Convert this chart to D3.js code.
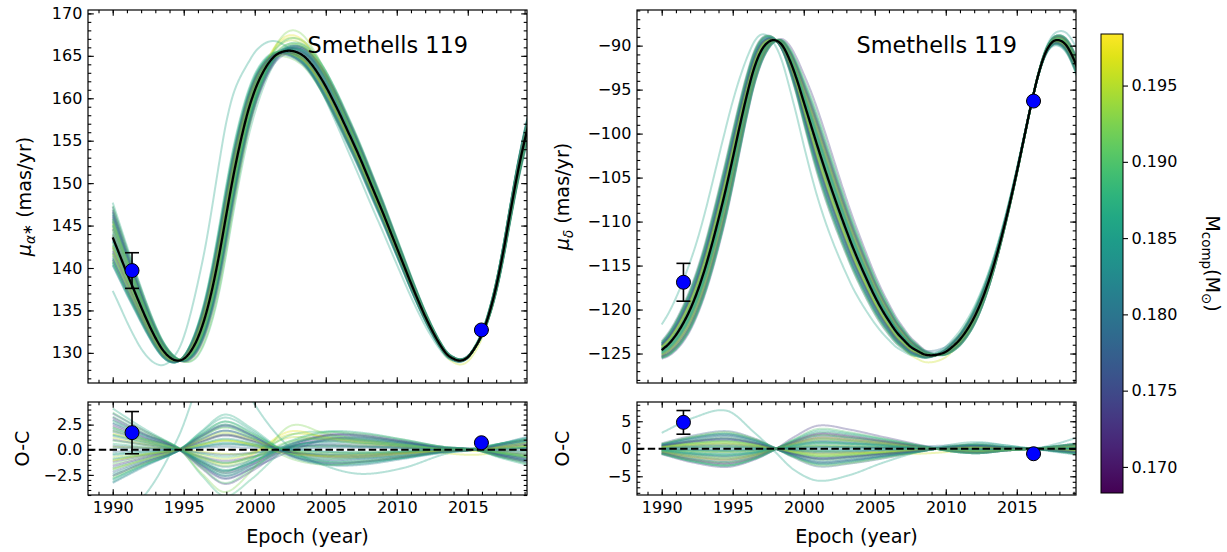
<!DOCTYPE html>
<html>
<head>
<meta charset="utf-8">
<script src="https://cdn.jsdelivr.net/npm/d3@7"></script>
<style>
  body { margin: 0; background: #fff; }
  svg { display: block; }
  text { font-family: "DejaVu Sans", sans-serif; }
</style>
</head>
<body>
<svg id="fig" width="1227" height="552"></svg>
<script>
// ---------------------------------------------------------------
// Data: proper-motion anomaly of Smethells 119 (best fit, posterior
// draws expressed as residuals from the best fit, and observations)
// ---------------------------------------------------------------

// best-fit epochs (years) and the two proper-motion components
const bestEpochs = d3.range(1990, 2019.51, 0.5);
const bestPmRA = [
  143.6, 141.5, 139.4, 137.4, 135.4, 133.5, 131.8, 130.4, 129.5, 129.1,
  129.3, 130.2, 131.8, 134.2, 137.5, 141.6, 146.3, 150.9, 154.9, 158.3,
  160.9, 162.8, 164.2, 165.1, 165.5, 165.6, 165.4, 164.9, 164.0, 162.8,
  161.4, 159.8, 158.1, 156.3, 154.5, 152.6, 150.6, 148.6, 146.6, 144.5,
  142.4, 140.3, 138.2, 136.2, 134.3, 132.6, 131.1, 129.9, 129.3, 129.1,
  129.5, 130.6, 132.2, 134.6, 137.8, 141.9, 146.6, 151.1, 155.0, 158.3
];
const bestPmDec = [
  -124.6, -123.9, -122.9, -121.6, -120.0, -118.0, -115.6, -112.8, -109.7, -106.4,
  -102.8, -99.1, -95.6, -92.6, -90.6, -89.6, -89.4, -90.0, -91.6, -93.8,
  -96.4, -99.0, -101.6, -104.1, -106.5, -108.8, -111.0, -113.1, -115.0, -116.8,
  -118.5, -120.0, -121.3, -122.5, -123.4, -124.2, -124.7, -125.1, -125.2, -125.1,
  -124.8, -124.2, -123.4, -122.3, -120.9, -119.1, -116.9, -114.3, -111.3, -108.0,
  -104.4, -100.6, -96.8, -93.4, -90.9, -89.6, -89.4, -90.0, -91.5, -93.6
];

// companion mass of each posterior draw (Msun)
const drawMass = [
  0.1745, 0.1760, 0.1850, 0.1900, 0.1950, 0.1720, 0.1820, 0.1880, 0.1930, 0.1790,
  0.1870, 0.1960, 0.1770, 0.1840, 0.1910, 0.1735, 0.1860, 0.1890, 0.1805, 0.1940,
  0.1780, 0.1830, 0.1970, 0.1750, 0.1865, 0.1895, 0.1880, 0.1925, 0.1858, 0.1815,
  0.1842, 0.1728, 0.1905, 0.1795, 0.1855, 0.1915, 0.1738, 0.1812, 0.1875, 0.1945,
  0.1765, 0.1835, 0.1898, 0.1955, 0.1785, 0.1868, 0.1922, 0.1752
];

// residual of each draw from the best fit, RA component
const residEpochsRA = [1990, 1992.2, 1994.6, 1996.3, 1997.9, 1999.7, 2002.4, 2005, 2007.5, 2010.5, 2013.2, 2015.5, 2017.3, 2019.2];
const residRA = [
  [3.6, 1.9, 0.1, -1.7, -2.9, -1.9, 0.4, 1.5, 1.5, 0.9, 0.3, 0.0, -0.7, -1.3],
  [3.0, 1.5, 0.2, -1.5, -2.6, -1.6, 0.5, 1.4, 1.3, 0.8, 0.2, 0.1, -0.6, -1.1],
  [-3.2, -1.6, -0.1, 1.6, 2.8, 1.8, -0.4, -1.4, -1.4, -0.8, -0.3, 0.0, 0.6, 1.2],
  [-2.6, -1.3, 0.0, 1.4, 2.5, 1.6, -0.3, -1.2, -1.1, -0.7, -0.2, 0.1, 0.5, 1.0],
  [1.2, 0.6, 0.1, -0.5, -0.9, -0.4, 1.2, 1.0, 0.6, 0.3, 0.1, -0.1, -0.3, -0.5],
  [2.4, 1.2, 0.1, -1.3, -2.3, -1.5, 0.2, 1.1, 1.0, 0.6, 0.2, 0.0, -0.5, -0.9],
  [-1.8, -0.9, 0.0, 1.1, 1.9, 1.2, -0.2, -0.8, -0.8, -0.5, -0.1, 0.0, 0.4, 0.7],
  [0.6, 0.3, 0.0, -0.4, -0.7, -0.4, 0.1, 0.3, 0.3, 0.2, 0.0, 0.0, -0.1, -0.2],
  [-1.0, -0.5, 0.0, 0.6, 1.0, 0.6, -0.1, -0.5, -0.4, -0.3, -0.1, 0.0, 0.2, 0.4],
  [1.8, 0.9, 0.0, -1.0, -1.7, -1.1, 0.3, 0.8, 0.8, 0.5, 0.1, 0.0, -0.4, -0.7],
  [-0.4, -0.2, 0.0, 0.3, 0.6, 0.4, 0.0, -0.2, -0.2, -0.1, 0.0, 0.0, 0.1, 0.2],
  [0.3, 0.2, 0.1, -0.2, -0.4, -0.3, 1.5, 1.3, 0.8, 0.3, -0.3, -0.5, -0.2, 0.3],
  [-2.2, -1.1, -0.1, 1.1, 1.9, 1.2, -0.3, -1.0, -0.9, -0.6, -0.2, 0.0, 0.4, 0.8],
  [2.7, 1.4, 0.1, -1.2, -2.1, -1.3, 0.5, 1.2, 1.1, 0.7, 0.2, 0.0, -0.5, -1.0],
  [-1.4, -0.7, 0.0, 0.8, 1.5, 0.9, -0.2, -0.6, -0.6, -0.3, -0.1, 0.0, 0.3, 0.5],
  [1.0, 0.5, 0.0, -0.7, -1.1, -0.7, 0.2, 0.5, 0.4, 0.3, 0.1, 0.0, -0.2, -0.4],
  [-3.0, -1.5, -0.1, 1.8, 3.2, 2.0, -0.5, -1.4, -1.3, -0.8, -0.2, 0.1, 0.6, 1.1],
  [3.3, 1.7, 0.2, -1.3, -2.2, -1.0, 1.4, 1.8, 1.4, 0.8, 0.3, 0.0, -0.7, -1.2],
  [0.2, 0.1, 0.0, 0.3, 0.5, 0.4, -0.2, -0.6, -0.6, -0.3, 0.0, 0.0, 0.1, 0.2],
  [-0.7, -0.4, 0.0, 0.5, 0.9, 0.6, -0.1, -0.3, -0.3, -0.2, 0.0, 0.0, 0.1, 0.3],
  [2.0, 1.0, 0.1, -1.2, -2.1, -1.3, 0.3, 0.9, 0.9, 0.5, 0.2, 0.0, -0.4, -0.8],
  [-2.4, -1.2, -0.1, 1.3, 2.3, 1.4, -0.3, -1.1, -1.0, -0.6, -0.2, 0.0, 0.5, 0.9],
  [1.6, 0.8, 0.1, -0.8, -1.4, -0.6, 1.8, 1.2, 0.7, 0.4, 0.1, -0.1, -0.3, -0.6],
  [-1.2, -0.6, 0.0, 0.8, 1.4, 0.9, -0.2, -0.5, -0.5, -0.3, -0.1, 0.0, 0.2, 0.5],
  [4.1, 2.1, 0.2, -1.4, -2.4, -1.4, 0.8, 1.8, 1.7, 1.0, 0.3, 0.0, -0.8, -1.5],
  [-2.0, -1.0, 0.0, 1.6, 2.8, 1.7, -0.3, -0.9, -0.8, -0.5, -0.1, 0.0, 0.4, 0.8],
  [2.9, 1.5, 0.2, -2.6, -4.6, -3.0, 0.3, 1.3, 1.2, 0.7, 0.2, 0.0, -0.6, -1.1],
  [2.2, 1.1, 0.1, -2.4, -4.2, -2.2, 2.3, 1.6, 1.0, 0.5, 0.1, 0.0, -0.4, -0.8],
  [-6.3, -4.6, 1.2, 7.5, 11.0, 5.2, 0.3, -1.6, -2.4, -1.8, -0.5, 0.2, 0.6, 0.9],
  [1.4, 0.7, 0.0, -0.8, -1.3, -0.8, 0.2, 0.6, 0.6, 0.4, 0.1, 0.0, -0.3, -0.5],
  [-0.9, -0.5, 0.0, 0.6, 1.1, 0.7, -0.1, -0.4, -0.4, -0.2, 0.0, 0.0, 0.2, 0.3],
  [-1.6, -0.8, 0.0, 0.9, 1.5, 1.0, -0.2, -0.7, -0.7, -0.4, -0.1, 0.0, 0.3, 0.6],
  [0.9, 0.5, 0.0, -0.7, -1.3, -0.8, 0.2, 0.4, 0.4, 0.2, 0.1, 0.0, -0.2, -0.3],
  [-0.2, -0.1, 0.0, 0.2, 0.3, 0.2, 0.3, 0.4, 0.3, 0.2, 0.0, 0.0, 0.0, 0.1],
  [2.2, 1.1, 0.1, -1.5, -2.6, -1.7, 0.1, 1.0, 1.0, 0.6, 0.2, 0.0, -0.4, -0.8],
  [-2.8, -1.4, -0.1, 1.3, 2.2, 1.3, -0.8, -1.5, -1.2, -0.7, -0.2, 0.1, 0.6, 1.0],
  [3.2, 1.6, 0.1, -1.9, -3.4, -2.2, 0.2, 1.4, 1.4, 0.8, 0.2, 0.0, -0.6, -1.2],
  [-3.3, -1.7, -0.1, 1.5, 2.5, 1.5, -0.6, -1.5, -1.5, -0.9, -0.3, 0.0, 0.6, 1.3],
  [1.5, 0.8, 0.0, -1.1, -2.0, -1.3, 0.3, 0.8, 0.7, 0.4, 0.1, 0.0, -0.3, -0.6],
  [-1.9, -1.0, 0.0, 1.0, 1.7, 1.1, -0.1, -0.7, -0.7, -0.4, -0.1, 0.0, 0.3, 0.7],
  [2.6, 1.3, 0.1, -1.6, -2.8, -1.9, -0.2, 1.0, 1.2, 0.7, 0.2, 0.0, -0.5, -1.0],
  [-0.5, -0.3, 0.0, 0.4, 0.7, 0.5, 0.1, -0.2, -0.3, -0.2, 0.0, 0.0, 0.1, 0.2],
  [3.7, 1.9, 0.2, -1.8, -3.3, -2.0, 0.6, 1.7, 1.6, 1.0, 0.3, 0.0, -0.7, -1.4],
  [-1.1, -0.5, 0.0, 0.5, 0.9, 0.5, -0.4, -0.6, -0.5, -0.3, -0.1, 0.0, 0.2, 0.4],
  [0.4, 0.2, 0.0, -0.3, -0.5, -0.3, 0.0, 0.2, 0.2, 0.1, 0.0, 0.0, -0.1, -0.1],
  [-2.9, -1.5, -0.1, 1.9, 3.5, 2.2, -0.4, -1.2, -1.2, -0.8, -0.2, 0.1, 0.6, 1.1],
  [1.9, 1.0, 0.1, -0.9, -1.6, -0.9, 0.8, 1.1, 0.9, 0.5, 0.1, 0.0, -0.3, -0.7],
  [-2.6, -1.3, -0.1, 1.4, 2.4, 1.5, -0.5, -1.3, -1.2, -0.7, -0.2, 0.0, 0.5, 1.0]
];

// residual of each draw from the best fit, Dec component
const residEpochsDec = [1990, 1992.2, 1994.6, 1996.5, 1998.0, 1999.3, 2001.0, 2003.2, 2005.5, 2008, 2010.5, 2012.3, 2014.3, 2016.2, 2017.8, 2019.2];
const residDec = [
  [-0.7, -1.7, -2.2, -1.3, 0.0, 1.1, 2.2, 1.9, 1.2, 0.4, -0.3, -0.6, -0.2, 0.0, 0.3, 0.7],
  [-0.5, -1.1, -1.5, -0.9, 0.0, 0.8, 1.5, 1.3, 0.8, 0.3, -0.2, -0.4, -0.2, 0.0, 0.2, 0.5],
  [0.8, 2.1, 2.8, 1.7, 0.1, -1.4, -2.8, -2.4, -1.5, -0.6, 0.4, 0.7, 0.3, 0.0, -0.4, -0.8],
  [0.6, 1.5, 2.0, 1.2, 0.0, -1.0, -2.0, -1.7, -1.1, -0.4, 0.3, 0.5, 0.2, 0.0, -0.3, -0.6],
  [-0.2, -0.5, -0.6, -0.4, 0.0, 0.3, 0.6, 0.5, 0.3, 0.1, -0.1, -0.2, -0.1, 0.0, 0.1, 0.2],
  [-0.8, -2.1, -2.8, -1.7, -0.1, 1.4, 2.8, 2.4, 1.5, 0.6, -0.4, -0.7, -0.3, 0.0, 0.4, 0.8],
  [0.5, 1.1, 1.5, 0.9, 0.0, -0.8, -1.5, -1.3, -0.8, -0.3, 0.2, 0.4, 0.2, 0.0, -0.2, -0.5],
  [-0.1, -0.3, -0.4, -0.2, 0.0, 0.2, 0.4, 0.3, 0.2, 0.1, -0.1, -0.1, 0.0, 0.0, 0.1, 0.1],
  [0.3, 0.8, 1.0, 0.6, 0.0, -0.5, -1.0, -0.9, -0.6, -0.2, 0.2, 0.3, 0.1, 0.0, -0.2, -0.3],
  [-0.4, -0.9, -1.2, -0.7, 0.0, 0.6, 1.2, 1.0, 0.7, 0.2, -0.2, -0.3, -0.1, 0.0, 0.2, 0.4],
  [0.1, 0.2, 0.3, 0.2, 0.0, -0.2, -0.3, -0.3, -0.2, -0.1, 0.0, 0.1, 0.0, 0.0, 0.0, -0.1],
  [0.2, 0.4, 0.5, 0.3, 0.0, -0.3, -0.5, -0.6, -0.8, -0.9, -0.5, 0.0, 0.1, 0.0, -0.1, -0.2],
  [1.0, 2.4, 3.2, 1.9, 0.1, -1.6, -3.2, -2.7, -1.8, -0.6, 0.5, 0.8, 0.3, 0.0, -0.5, -1.0],
  [-0.7, -1.8, -2.4, -1.4, 0.0, 1.2, 2.4, 2.0, 1.3, 0.5, -0.4, -0.6, -0.2, 0.0, 0.4, 0.7],
  [0.4, 0.9, 1.2, 0.7, 0.0, -0.6, -1.2, -1.0, -0.7, -0.2, 0.2, 0.3, 0.1, 0.0, -0.2, -0.4],
  [-1.0, -2.5, -3.3, -2.0, -0.1, 2.1, 4.2, 3.5, 2.2, 0.8, -0.5, -0.8, -0.3, 0.0, 0.5, 1.0],
  [0.5, 1.4, 1.8, 1.1, 0.0, -0.9, -1.8, -1.5, -1.0, -0.4, 0.3, 0.5, 0.2, 0.0, -0.3, -0.5],
  [-0.3, -0.8, -1.0, -0.6, 0.0, 0.5, 1.0, 0.9, 0.6, 0.2, -0.2, -0.3, -0.1, 0.0, 0.2, 0.3],
  [0.7, 1.7, 2.3, 1.4, 0.0, -1.2, -2.3, -2.0, -1.3, -0.5, 0.3, 0.6, 0.2, 0.0, -0.3, -0.7],
  [-0.5, -1.4, -1.8, -1.1, 0.0, 0.9, 1.8, 1.5, 1.0, 0.4, -0.3, -0.5, -0.2, 0.0, 0.3, 0.5],
  [0.2, 0.6, 0.8, 0.5, 0.0, -0.4, -0.8, -0.7, -0.4, -0.2, 0.1, 0.2, 0.1, 0.0, -0.1, -0.2],
  [-0.2, -0.6, -0.8, -0.5, 0.0, 0.4, 0.8, 0.7, 0.4, 0.2, -0.1, -0.2, -0.1, 0.0, 0.1, 0.2],
  [-0.6, -1.5, -2.0, -1.2, 0.0, 1.0, 2.0, 1.7, 1.1, 0.4, -0.3, -0.5, -0.2, 0.0, 0.3, 0.6],
  [0.8, 2.0, 2.6, 1.6, 0.1, -1.3, -2.6, -2.2, -1.4, -0.5, 0.4, 0.7, 0.3, 0.0, -0.4, -0.8],
  [-0.1, -0.2, -0.2, -0.1, 0.0, 0.1, 0.2, 0.2, 0.1, 0.0, 0.0, 0.0, 0.0, 0.0, 0.0, 0.1],
  [0.4, 1.1, 1.4, 0.8, 0.0, -0.7, -1.4, -1.2, -0.8, -0.3, 0.2, 0.4, 0.1, 0.0, -0.2, -0.4],
  [-0.9, -2.3, -3.0, -1.8, -0.1, 1.5, 3.0, 2.6, 1.7, 0.6, -0.5, -0.8, -0.3, 0.0, 0.5, 0.9],
  [-0.8, -1.9, -2.5, -1.5, 0.0, 1.3, 2.5, 2.1, 1.4, 0.5, -0.4, -0.6, -0.3, 0.0, 0.4, 0.8],
  [2.9, 5.6, 6.9, 3.0, -0.6, -3.8, -5.8, -4.8, -2.6, -0.6, 0.8, 1.2, 0.6, 0.0, -0.6, -1.0],
  [0.2, 0.5, 0.6, 0.4, 0.0, -0.3, -0.6, -0.5, -0.3, -0.1, 0.1, 0.2, 0.1, 0.0, -0.1, -0.2],
  [-0.4, -1.0, -1.3, -0.8, 0.0, 0.7, 1.3, 1.1, 0.7, 0.3, 0.4, 1.0, 0.6, 0.1, 0.9, 2.0],
  [0.5, 1.3, 1.7, 1.0, 0.0, -0.9, -1.7, -1.4, -0.9, -0.3, 0.3, 0.4, 0.2, 0.0, -0.3, -0.5],
  [-0.2, -0.4, -0.5, -0.3, 0.0, 0.3, 0.5, 0.4, 0.3, 0.1, -0.1, -0.1, 0.0, 0.0, 0.1, 0.2],
  [0.0, 0.1, 0.1, 0.1, 0.0, 0.0, -0.1, 0.0, 0.2, 0.4, 0.6, 0.5, 0.2, 0.0, -0.1, -0.2],
  [-0.9, -2.3, -3.1, -1.9, -0.1, 1.6, 3.3, 2.8, 1.8, 0.6, -0.5, -0.8, -0.3, 0.0, 0.5, 0.9],
  [0.9, 2.2, 3.0, 1.8, 0.1, -1.5, -3.0, -2.6, -1.7, -0.6, 0.5, 0.8, 0.3, 0.0, -0.4, -0.9],
  [-0.8, -2.0, -2.6, -1.6, 0.0, 1.3, 2.6, 2.2, 1.4, 0.5, -0.4, -0.7, -0.3, 0.0, 0.4, 0.8],
  [0.7, 1.8, 2.4, 1.4, 0.0, -1.2, -2.4, -2.0, -1.3, -0.5, 0.4, 0.6, 0.2, 0.0, -0.4, -0.7],
  [-0.3, -0.8, -1.1, -0.7, 0.0, 0.6, 1.1, 0.9, 0.6, 0.2, -0.2, -0.3, -0.1, 0.0, 0.2, 0.3],
  [0.4, 1.0, 1.3, 0.8, 0.0, -0.7, -1.3, -1.1, -0.7, -0.3, 0.2, 0.3, 0.1, 0.0, -0.2, -0.4],
  [-0.6, -1.4, -1.9, -1.1, 0.0, 1.0, 1.9, 1.6, 1.0, 0.4, -0.3, -0.5, -0.2, 0.0, 0.3, 0.6],
  [0.1, 0.3, 0.4, 0.2, 0.0, -0.2, -0.4, -0.3, -0.2, -0.1, 0.1, 0.1, 0.0, 0.0, -0.1, -0.1],
  [-0.9, -2.2, -3.0, -1.8, -0.1, 1.7, 3.6, 3.0, 1.9, 0.7, -0.5, -0.8, -0.3, 0.0, 0.5, 0.9],
  [0.3, 0.7, 0.9, 0.5, 0.0, -0.5, -0.9, -0.8, -0.5, -0.2, 0.1, 0.2, 0.1, 0.0, -0.1, -0.3],
  [-0.1, -0.2, -0.3, -0.2, 0.0, 0.2, 0.3, 0.3, 0.2, 0.1, 0.0, -0.1, 0.0, 0.0, 0.0, 0.1],
  [0.8, 2.0, 2.7, 1.6, 0.1, -1.4, -2.7, -2.3, -1.5, -0.5, 0.4, 0.7, 0.3, 0.0, -0.4, -0.8],
  [-0.5, -1.2, -1.6, -1.0, 0.0, 0.8, 1.6, 1.4, 0.9, 0.3, -0.2, -0.4, -0.2, 0.0, 0.2, 0.5],
  [0.6, 1.4, 1.9, 1.1, 0.0, -1.0, -1.9, -1.6, -1.0, -0.4, 0.3, 0.5, 0.2, 0.0, -0.3, -0.6]
];

// Hipparcos and Gaia measurements
const obsEpochRA = [1991.36, 2015.96];
const obsPmRA = [139.7, 132.7];
const obsErrRA = [2.1, 0.05];
const obsResidRA = [1.7, 0.7];

const obsEpochDec = [1991.53, 2016.18];
const obsPmDec = [-116.9, -96.3];
const obsErrDec = [2.15, 0.05];
const obsResidDec = [4.8, -0.9];

// tick values
const yearTicks = [1990, 1995, 2000, 2005, 2010, 2015];
const yearMinor = d3.range(1989, 2020, 1);
const raTicks = [130, 135, 140, 145, 150, 155, 160, 165, 170];
const raMinor = d3.range(127, 171, 1);
const decTicks = [-125, -120, -115, -110, -105, -100, -95, -90];
const decMinor = d3.range(-128, -85, 1);
const ocRATicks = [-2.5, 0, 2.5];
const ocRAMinor = d3.range(-4.5, 4.51, 0.5);
const ocDecTicks = [-5, 0, 5];
const ocDecMinor = d3.range(-8, 8.1, 1);
const massTicks = [0.170, 0.175, 0.180, 0.185, 0.190, 0.195];

const starName = "Smethells 119";

// ---------------------------------------------------------------
// Layout
// ---------------------------------------------------------------
const svg = d3.select("#fig");
const defs = svg.append("defs");

const colLeft = [88, 527];
const colRight = [637, 1076];
const rowMain = [10, 383];
const rowOC = [402, 495];
const epochDomain = [1988.26, 2019.17];

const massColor = d3.scaleSequential(d3.interpolateViridis).domain([0.16829, 0.19838]);

// cubic Hermite through tabulated knots (for smooth curve evaluation)
function hermite(xs, ys) {
  const n = xs.length, m = new Array(n);
  for (let i = 0; i < n; i++) {
    if (i === 0) m[i] = (ys[1] - ys[0]) / (xs[1] - xs[0]);
    else if (i === n - 1) m[i] = (ys[n - 1] - ys[n - 2]) / (xs[n - 1] - xs[n - 2]);
    else m[i] = (ys[i + 1] - ys[i - 1]) / (xs[i + 1] - xs[i - 1]);
  }
  return t => {
    let i = d3.bisectRight(xs, t) - 1;
    i = Math.max(0, Math.min(n - 2, i));
    const h = xs[i + 1] - xs[i], s = (t - xs[i]) / h, s2 = s * s, s3 = s2 * s;
    return (2 * s3 - 3 * s2 + 1) * ys[i] + (s3 - 2 * s2 + s) * h * m[i]
         + (-2 * s3 + 3 * s2) * ys[i + 1] + (s3 - s2) * h * m[i + 1];
  };
}

const grid = d3.range(1990, 2019.35, 0.04);
let clipId = 0;

function drawAxes(g, x, y, xr, yr, opt) {
  const clean = (sel) => {
    sel.select(".domain").remove();
    sel.attr("font-family", "DejaVu Sans, sans-serif").attr("font-size", 16);
    sel.selectAll(".tick text").attr("fill", "#000");
    sel.selectAll(".tick line").attr("stroke", "#000").attr("stroke-width", 1.1);
  };
  const xMinor = yearMinor.filter(v => v >= epochDomain[0] && v <= epochDomain[1]);
  // bottom
  g.append("g").attr("transform", `translate(0,${yr[1]})`)
    .call(d3.axisBottom(x).tickValues(xMinor).tickSize(-3.3).tickFormat(""))
    .call(clean);
  g.append("g").attr("transform", `translate(0,${yr[1]})`)
    .call(d3.axisBottom(x).tickValues(yearTicks).tickSize(-5.8).tickPadding(6.6)
      .tickFormat(opt.xLabels ? d3.format("d") : ""))
    .call(clean);
  // top
  g.append("g").attr("transform", `translate(0,${yr[0]})`)
    .call(d3.axisTop(x).tickValues(xMinor).tickSize(-3.3).tickFormat(""))
    .call(clean);
  g.append("g").attr("transform", `translate(0,${yr[0]})`)
    .call(d3.axisTop(x).tickValues(yearTicks).tickSize(-5.8).tickFormat(""))
    .call(clean);
  // left
  const yd = y.domain();
  const inY = v => v >= Math.min(...yd) && v <= Math.max(...yd);
  g.append("g").attr("transform", `translate(${xr[0]},0)`)
    .call(d3.axisLeft(y).tickValues(opt.yMinor.filter(inY)).tickSize(-3.3).tickFormat(""))
    .call(clean);
  g.append("g").attr("transform", `translate(${xr[0]},0)`)
    .call(d3.axisLeft(y).tickValues(opt.yTicks).tickSize(-5.8).tickPadding(5.6).tickFormat(opt.yFormat))
    .call(clean);
  // right
  g.append("g").attr("transform", `translate(${xr[1]},0)`)
    .call(d3.axisRight(y).tickValues(opt.yMinor.filter(inY)).tickSize(-3.3).tickFormat(""))
    .call(clean);
  g.append("g").attr("transform", `translate(${xr[1]},0)`)
    .call(d3.axisRight(y).tickValues(opt.yTicks).tickSize(-5.8).tickFormat(""))
    .call(clean);
  // frame
  g.append("rect").attr("x", xr[0]).attr("y", yr[0])
    .attr("width", xr[1] - xr[0]).attr("height", yr[1] - yr[0])
    .attr("fill", "none").attr("stroke", "#000").attr("stroke-width", 1.2);
}

function makeClip(xr, yr) {
  const id = "clip" + (clipId++);
  defs.append("clipPath").attr("id", id).append("rect")
    .attr("x", xr[0]).attr("y", yr[0]).attr("width", xr[1] - xr[0]).attr("height", yr[1] - yr[0]);
  return `url(#${id})`;
}

function drawPoints(g, x, y, epochs, vals, errs) {
  epochs.forEach((t, i) => {
    const cx = x(t);
    const y0 = y(vals[i] - errs[i]), y1 = y(vals[i] + errs[i]);
    g.append("line").attr("x1", cx).attr("x2", cx).attr("y1", y0).attr("y2", y1)
      .attr("stroke", "#000").attr("stroke-width", 1.6);
    [y0, y1].forEach(yy => g.append("line").attr("x1", cx - 7).attr("x2", cx + 7)
      .attr("y1", yy).attr("y2", yy).attr("stroke", "#000").attr("stroke-width", 1.6));
    g.append("circle").attr("cx", cx).attr("cy", y(vals[i])).attr("r", 7)
      .attr("fill", "#0000ff").attr("stroke", "#000").attr("stroke-width", 1);
  });
}

function drawColumn(cfg) {
  const g = svg.append("g");
  const x = d3.scaleLinear().domain(epochDomain).range(cfg.xr);
  const yMain = d3.scaleLinear().domain(cfg.mainDomain).range([rowMain[1], rowMain[0]]);
  const yOC = d3.scaleLinear().domain(cfg.ocDomain).range([rowOC[1], rowOC[0]]);
  const best = hermite(bestEpochs, cfg.best);
  const line = (ys) => d3.line().x(d => x(d[0])).y(d => ys(d[1]));

  // main panel: posterior draws, best fit, measurements
  const gm = g.append("g");
  const clipM = makeClip(cfg.xr, rowMain);
  const draws = gm.append("g").attr("clip-path", clipM);
  const drawsOC = [];
  cfg.resid.forEach((r, i) => {
    const res = hermite(cfg.residEpochs, r);
    drawsOC.push(res);
    draws.append("path")
      .attr("d", line(yMain)(grid.map(t => [t, best(t) + res(t)])))
      .attr("fill", "none").attr("stroke", massColor(drawMass[i]))
      .attr("stroke-width", 2).attr("stroke-opacity", 0.32);
  });
  gm.append("path").attr("clip-path", clipM)
    .attr("d", line(yMain)(grid.map(t => [t, best(t)])))
    .attr("fill", "none").attr("stroke", "#000").attr("stroke-width", 2.3);
  drawPoints(gm, x, yMain, cfg.obsEpoch, cfg.obs, cfg.obsErr);
  drawAxes(gm, x, yMain, cfg.xr, rowMain, {
    xLabels: false, yTicks: cfg.mainTicks, yMinor: cfg.mainMinor, yFormat: d3.format("d")
  });
  gm.append("text").attr("x", (cfg.xr[0] + cfg.xr[1]) / 2).attr("y", 53)
    .attr("font-size", 22.4).attr("fill", "#000").text(starName);

  // residual panel
  const go = g.append("g");
  const clipO = makeClip(cfg.xr, rowOC);
  const dOC = go.append("g").attr("clip-path", clipO);
  drawsOC.forEach((res, i) => {
    dOC.append("path")
      .attr("d", line(yOC)(grid.map(t => [t, res(t)])))
      .attr("fill", "none").attr("stroke", massColor(drawMass[i]))
      .attr("stroke-width", 2).attr("stroke-opacity", 0.32);
  });
  dOC.append("line").attr("x1", cfg.xr[0]).attr("x2", cfg.xr[1])
    .attr("y1", yOC(0)).attr("y2", yOC(0))
    .attr("stroke", "#000").attr("stroke-width", 2).attr("stroke-dasharray", "7.4,3.4");
  drawPoints(go, x, yOC, cfg.obsEpoch, cfg.obsResid, cfg.obsErr);
  drawAxes(go, x, yOC, cfg.xr, rowOC, {
    xLabels: true, yTicks: cfg.ocTicks, yMinor: cfg.ocMinor, yFormat: cfg.ocFormat
  });

  // axis titles
  const cx = (cfg.xr[0] + cfg.xr[1]) / 2;
  g.append("text").attr("x", cx).attr("y", 543).attr("text-anchor", "middle")
    .attr("font-size", 19.2).attr("fill", "#000").text("Epoch (year)");

  const yl = g.append("text")
    .attr("transform", `translate(${cfg.yLabelX},${(rowMain[0] + rowMain[1]) / 2}) rotate(-90)`)
    .attr("text-anchor", "middle").attr("font-size", 19.2).attr("fill", "#000");
  yl.append("tspan").attr("font-style", "italic").text("μ");
  yl.append("tspan").attr("font-style", "italic").attr("font-size", 13.4).attr("dy", 4).text(cfg.sub);
  if (cfg.star) yl.append("tspan").attr("font-size", 13.4).attr("dy", -3).text("∗");
  yl.append("tspan").attr("dy", cfg.star ? -1 : -4).text(" (mas/yr)");

  g.append("text")
    .attr("transform", `translate(${cfg.ocLabelX},${(rowOC[0] + rowOC[1]) / 2}) rotate(-90)`)
    .attr("text-anchor", "middle").attr("font-size", 19.2).attr("fill", "#000").text("O-C");
}

drawColumn({
  xr: colLeft, best: bestPmRA, resid: residRA, residEpochs: residEpochsRA,
  mainDomain: [126.45, 170.4], mainTicks: raTicks, mainMinor: raMinor,
  ocDomain: [-4.5, 4.75], ocTicks: ocRATicks, ocMinor: ocRAMinor, ocFormat: d3.format(".1f"),
  obsEpoch: obsEpochRA, obs: obsPmRA, obsErr: obsErrRA, obsResid: obsResidRA,
  sub: "α", star: true, yLabelX: 30.5, ocLabelX: 28.5
});
drawColumn({
  xr: colRight, best: bestPmDec, resid: residDec, residEpochs: residEpochsDec,
  mainDomain: [-128.35, -85.95], mainTicks: decTicks, mainMinor: decMinor,
  ocDomain: [-8.4, 8.5], ocTicks: ocDecTicks, ocMinor: ocDecMinor, ocFormat: d3.format("d"),
  obsEpoch: obsEpochDec, obs: obsPmDec, obsErr: obsErrDec, obsResid: obsResidDec,
  sub: "δ", star: false, yLabelX: 568.5, ocLabelX: 568.5
});

// ---------------------------------------------------------------
// Colour bar for the companion mass
// ---------------------------------------------------------------
const cb = { x0: 1101, x1: 1123, y0: 34, y1: 493 };
const yMass = d3.scaleLinear().domain(massColor.domain()).range([cb.y1, cb.y0]);
const grad = defs.append("linearGradient").attr("id", "massGrad")
  .attr("x1", 0).attr("y1", 1).attr("x2", 0).attr("y2", 0);
d3.range(0, 1.0001, 0.05).forEach(f => grad.append("stop")
  .attr("offset", f).attr("stop-color", d3.interpolateViridis(f)));
svg.append("rect").attr("x", cb.x0).attr("y", cb.y0)
  .attr("width", cb.x1 - cb.x0).attr("height", cb.y1 - cb.y0)
  .attr("fill", "url(#massGrad)").attr("stroke", "#000").attr("stroke-width", 1);
const cbAxis = svg.append("g").attr("transform", `translate(${cb.x1},0)`)
  .call(d3.axisRight(yMass).tickValues(massTicks).tickSize(5).tickPadding(3.5).tickFormat(d3.format(".3f")));
cbAxis.select(".domain").remove();
cbAxis.attr("font-family", "DejaVu Sans, sans-serif").attr("font-size", 16);
cbAxis.selectAll(".tick text").attr("fill", "#000");
cbAxis.selectAll(".tick line").attr("stroke", "#000").attr("stroke-width", 1.1);

const cbl = svg.append("text")
  .attr("transform", `translate(1205.5,${(cb.y0 + cb.y1) / 2}) rotate(90)`)
  .attr("text-anchor", "middle").attr("font-size", 19.2).attr("fill", "#000");
cbl.append("tspan").text("M");
cbl.append("tspan").attr("font-size", 13.4).attr("dy", 4).text("comp");
cbl.append("tspan").attr("dy", -4).text("(M");
cbl.append("tspan").attr("font-size", 13.4).attr("dy", 4).text("⊙");
cbl.append("tspan").attr("dy", -4).text(")");
</script>
</body>
</html>
